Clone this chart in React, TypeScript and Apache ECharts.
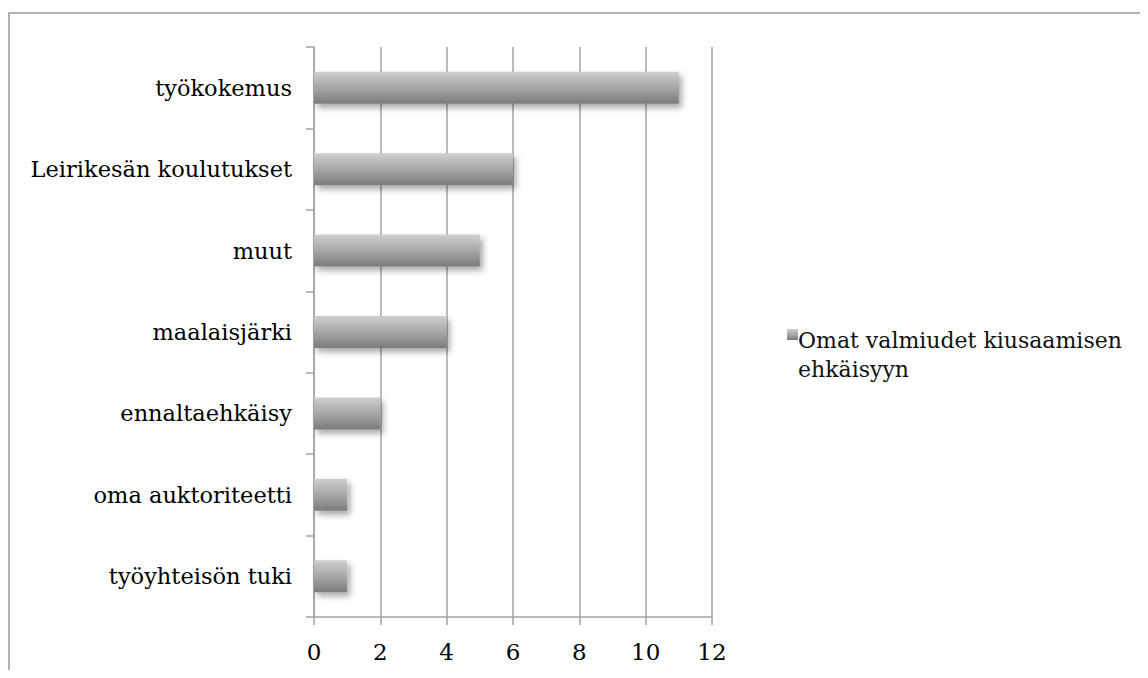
import React, { useEffect, useRef } from "react";
import * as echarts from "echarts";

const categories = [
  "työkokemus",
  "Leirikesän koulutukset",
  "muut",
  "maalaisjärki",
  "ennaltaehkäisy",
  "oma auktoriteetti",
  "työyhteisön tuki",
];
const values = [11, 6, 5, 4, 2, 1, 1];
const seriesName = "Omat valmiudet kiusaamisen\nehkäisyyn";
const xMin = 0;
const xMax = 12;
const xInterval = 2;

const FONT = "DejaVu Serif";
const GRID_COLOR = "#a3a3a3";

const barGradient = () =>
  new echarts.graphic.LinearGradient(0, 0, 0, 1, [
    { offset: 0, color: "#cfcfcf" },
    { offset: 0.5, color: "#a7a7a7" },
    { offset: 1, color: "#7b7b7b" },
  ]);

export default function App() {
  const ref = useRef<HTMLDivElement>(null);
  useEffect(() => {
    if (!ref.current) return;
    const chart = echarts.init(ref.current, undefined, { renderer: "svg" });
    chart.setOption({
      animation: false,
      backgroundColor: "#ffffff",
      textStyle: { fontFamily: FONT },
      grid: { left: 306, top: 39, width: 398, height: 570, containLabel: false },
      xAxis: {
        type: "value",
        min: xMin,
        max: xMax,
        interval: xInterval,
        axisLine: { show: true, lineStyle: { color: GRID_COLOR, width: 1.5 } },
        axisTick: { show: true, length: 8, lineStyle: { color: GRID_COLOR, width: 1.5 } },
        axisLabel: { color: "#000", fontFamily: FONT, fontSize: 23, margin: 23 },
        splitLine: { show: true, lineStyle: { color: GRID_COLOR, width: 1.5 } },
      },
      yAxis: {
        type: "category",
        data: categories,
        inverse: true,
        axisLine: { show: true, lineStyle: { color: GRID_COLOR, width: 1.5 } },
        axisTick: { show: true, length: 8, alignWithLabel: false, lineStyle: { color: GRID_COLOR, width: 1.5 } },
        axisLabel: { color: "#000", fontFamily: FONT, fontSize: 22.5, margin: 22, padding: [6, 0, 0, 0] },
        splitLine: { show: false },
      },
      legend: {
        left: 774,
        top: 318,
        orient: "vertical",
        padding: 0,
        itemWidth: 11,
        itemHeight: 11,
        icon: "rect",
        itemStyle: { opacity: 0 },
        textStyle: { color: "#111", fontFamily: FONT, fontSize: 22, lineHeight: 29 },
        data: [seriesName],
      },
      graphic: [
        {
          type: "rect",
          silent: true,
          shape: { x: 1, y: 5, width: 1300, height: 900 },
          style: { fill: "none", stroke: "#999999", lineWidth: 1.5 },
        },
        {
          type: "rect",
          silent: true,
          shape: { x: 779, y: 321, width: 11, height: 11 },
          style: { fill: barGradient() },
        },
      ],
      series: [
        {
          name: seriesName,
          type: "bar",
          data: values,
          barWidth: 32,
          itemStyle: {
            color: barGradient(),
            shadowBlur: 6,
            shadowOffsetX: 3,
            shadowOffsetY: 4,
            shadowColor: "rgba(0,0,0,0.35)",
          },
        },
      ],
    });
    return () => chart.dispose();
  }, []);
  return <div ref={ref} style={{ width: 1140, height: 662 }} />;
}
